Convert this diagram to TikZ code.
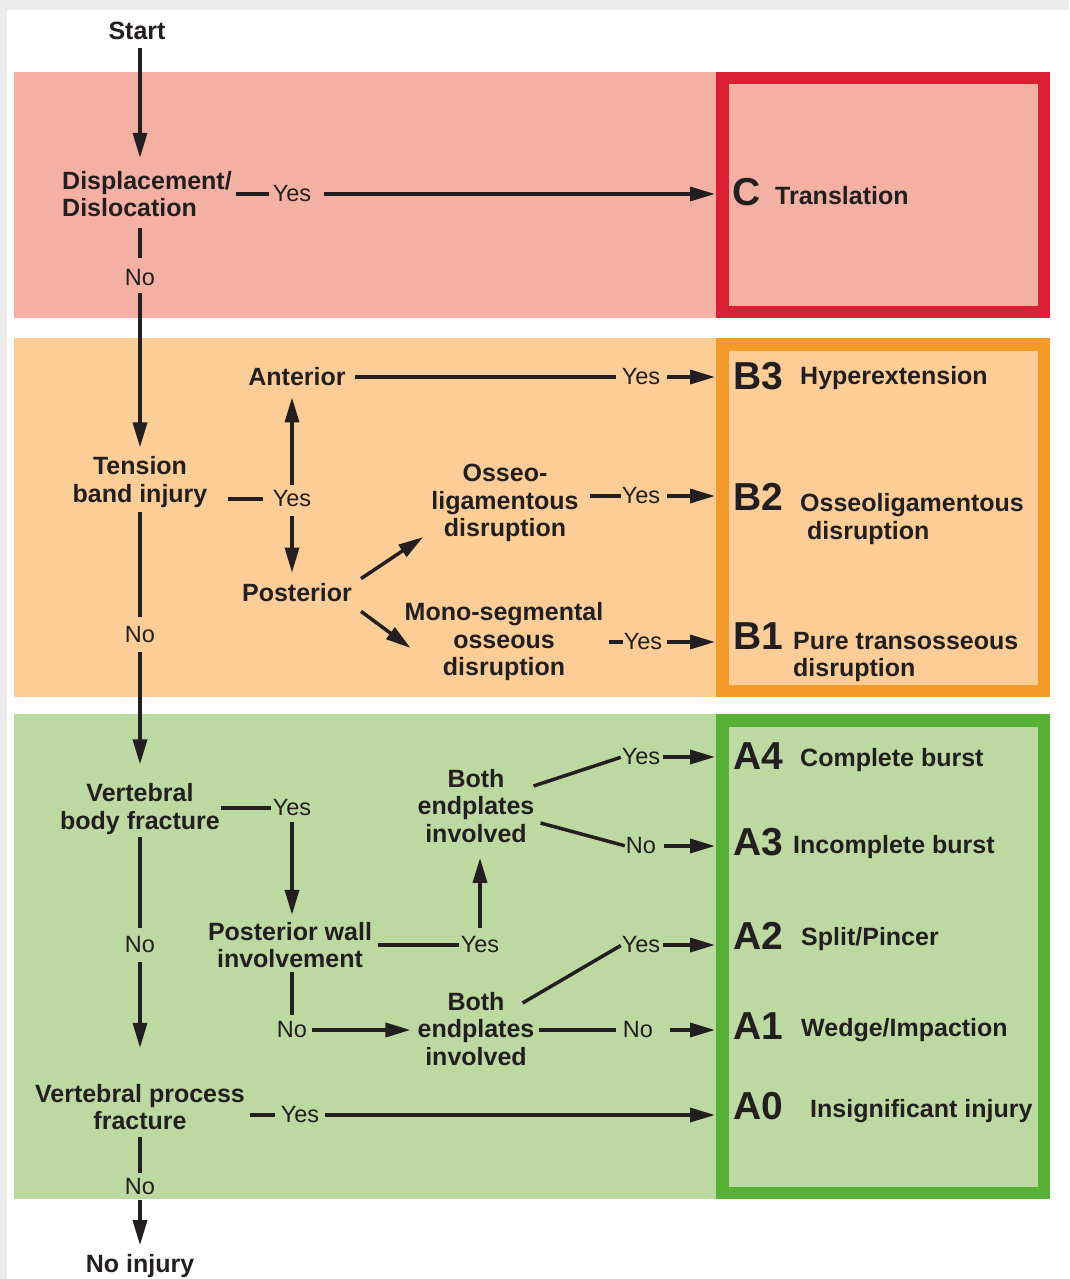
\documentclass[tikz,border=0pt]{standalone}
\usepackage{fontspec}
\setmainfont{Liberation Sans}
\usetikzlibrary{arrows.meta}
\definecolor{redband}{HTML}{F4B0A2}
\definecolor{redframe}{HTML}{DB1F35}
\definecolor{orband}{HTML}{FCCD97}
\definecolor{orframe}{HTML}{F39A29}
\definecolor{grband}{HTML}{BCD9A1}
\definecolor{grframe}{HTML}{55B035}
\definecolor{ink}{HTML}{231F20}
\begin{document}
\begin{tikzpicture}[x=1pt,y=-1pt,
  q/.style={font=\bfseries\fontsize{25}{27.5}\selectfont, align=center, text=ink, inner sep=0pt},
  lbl/.style={font=\fontsize{23.5}{26}\selectfont, text=ink, inner sep=0pt},
  code/.style={font=\bfseries\fontsize{39}{42}\selectfont, text=ink, inner sep=0pt, anchor=west},
  res/.style={font=\bfseries\fontsize{25}{27.5}\selectfont, text=ink, inner sep=0pt, anchor=west, align=left},
  frame/.style={draw=#1, line width=12.5pt, inner sep=0pt, outer sep=6.25pt},
  ln/.style={draw=ink, line width=3.5pt},
  arr/.style={ln, -{Triangle[length=25pt,width=14pt]}},
]
\useasboundingbox (0,0) rectangle (1069,1279);
% screen frame
\fill[black!8] (0,0) rectangle (1069,1279);
\fill[white] (7,10) rectangle (1069,1279);
% bands
\fill[redband] (14,72) rectangle (1050,318);
\fill[orband] (14,338) rectangle (1050,697);
\fill[grband] (14,714) rectangle (1050,1199);
\node[frame=redframe, fill=redband, minimum width=321.5pt, minimum height=233.5pt] (Cbox) at (883,195) {};
\node[frame=orframe, fill=orband, minimum width=321.5pt, minimum height=346.5pt] (Bbox) at (883,517.5) {};
\node[frame=grframe, fill=grband, minimum width=321.5pt, minimum height=472.5pt] (Abox) at (883,956.5) {};

% ---- C band
\node[q] (start) at (137,31) {Start};
\node[q, anchor=west, align=left] (disp) at (62,194) {Displacement/\\Dislocation};
\node[lbl] (y1) at (292,194) {Yes};
\node[lbl] (n1) at (140,278) {No};
\node[code] (C) at (732,192) {C};
\node[res] (Ct) at (775,196) {Translation};

% ---- B band
\node[q] (tens) at (140,482) {Tension\\band injury};
\node[lbl] (y2) at (292,499) {Yes};
\node[q] (ant) at (297,377) {Anterior};
\node[q] (post) at (297,593) {Posterior};
\node[lbl] (y3) at (641,377) {Yes};
\node[code] (B3) at (733,376) {B3};
\node[res] (B3t) at (800,378) {Hyperextension};
\node[q] (osseo) at (505,503) {Osseo-\\ligamentous\\disruption};
\node[lbl] (y4) at (641,496) {Yes};
\node[code] (B2) at (733,497) {B2};
\node[res] (B2t) at (800,519) {Osseoligamentous\\\hspace*{7pt}disruption};
\node[q] (mono) at (504,642) {Mono-segmental\\osseous\\disruption};
\node[lbl] (y5) at (643,642) {Yes};
\node[code] (B1) at (733,636) {B1};
\node[res] (B1t) at (793,657) {Pure transosseous\\disruption};
\node[lbl] (n2) at (140,635) {No};

% ---- A band
\node[q] (vb) at (140,809) {Vertebral\\body fracture};
\node[lbl] (y6) at (292,808) {Yes};
\node[q] (pw) at (290,945) {Posterior wall\\involvement};
\node[lbl] (y7) at (480,945) {Yes};
\node[q] (be1) at (476,806) {Both\\endplates\\involved};
\node[lbl] (y8) at (641,757) {Yes};
\node[lbl] (n3) at (641,846) {No};
\node[code] (A4) at (733,756) {A4};
\node[res] (A4t) at (800,760) {Complete burst};
\node[code] (A3) at (733,842) {A3};
\node[res] (A3t) at (793,847) {Incomplete burst};
\node[lbl] (n4) at (292,1030) {No};
\node[q] (be2) at (476,1029) {Both\\endplates\\involved};
\node[lbl] (y9) at (641,945) {Yes};
\node[lbl] (n5) at (638,1030) {No};
\node[code] (A2) at (733,936) {A2};
\node[res] (A2t) at (801,939) {Split/Pincer};
\node[code] (A1) at (733,1026) {A1};
\node[res] (A1t) at (801,1030) {Wedge/Impaction};
\node[lbl] (n6) at (140,945) {No};
\node[q] (vp) at (140,1107) {Vertebral process\\fracture};
\node[lbl] (y10) at (300,1115) {Yes};
\node[code] (A0) at (733,1106) {A0};
\node[res] (A0t) at (810,1111) {Insignificant injury};
\node[lbl] (n7) at (140,1187) {No};
\node[q] (noinj) at (140,1266) {No injury};

% ---- main column
\draw[arr, shorten <=8pt, shorten >=13pt] (start.south -| n1) -- (n1 |- disp.north);
\draw[ln, shorten <=11pt, shorten >=12pt] (n1 |- disp.south) -- (n1.north);
\draw[arr, shorten <=7pt, shorten >=9pt] (n1.south) -- (tens.north);
\draw[ln, shorten <=4pt, shorten >=10pt] (tens.south) -- (n2.north);
\draw[arr, shorten <=9pt, shorten >=19pt] (n2.south) -- (vb.north);
\draw[ln, shorten <=2pt, shorten >=9pt] (vb.south) -- (n6.north);
\draw[arr, shorten <=9pt, shorten >=36pt] (n6.south) -- (vp.north);
\draw[ln, shorten <=7pt, shorten >=6pt] (vp.south) -- (n7.north);
\draw[arr, shorten <=5pt, shorten >=9pt] (n7.south) -- (noinj.north);

% ---- C connectors
\draw[ln, shorten <=4pt, shorten >=4pt] (disp.east |- y1) -- (y1.west);
\draw[arr, shorten <=13pt, shorten >=1pt] (y1.east) -- (y1.east -| Cbox.west);

% ---- B connectors
\draw[ln, shorten <=20pt, shorten >=10pt] (tens.east |- y2) -- (y2.west);
\draw[arr, shorten <=6pt, shorten >=11pt] (y2.north) -- (y2.north |- ant.south);
\draw[arr, shorten <=9pt, shorten >=11pt] (y2.south) -- (y2.south |- post.north);
\draw[ln, shorten <=9pt, shorten >=6pt] (ant.east) -- (y3.west);
\draw[arr, shorten <=7pt, shorten >=1pt] (y3.east) -- (y3.east -| Bbox.west);
\draw[arr] ([shift={(9,-5)}]post.north east) -- ([shift={(-8,-5)}]osseo.south west);
\draw[arr] ([shift={(9,9)}]post.south east) -- ([shift={(6,6)}]mono.west);
\draw[ln, shorten <=11pt, shorten >=1pt] (osseo.east |- y4) -- (y4.west);
\draw[arr, shorten <=7pt, shorten >=1pt] (y4.east) -- (y4.east -| Bbox.west);
\draw[ln, shorten <=5pt, shorten >=1pt] (mono.east |- y5) -- (y5.west);
\draw[arr, shorten <=5pt, shorten >=1pt] (y5.east) -- (y5.east -| Bbox.west);

% ---- A connectors
\draw[ln, shorten <=1pt, shorten >=2pt] (vb.east |- y6) -- (y6.west);
\draw[arr, shorten <=6pt, shorten >=7pt] (y6.south) -- (y6.south |- pw.north);
\draw[ln, shorten <=6pt, shorten >=2pt] (pw.east |- y7) -- (y7.west);
\draw[arr, shorten <=9pt, shorten >=15pt] (y7.north) -- (y7.north |- be1.south);
\draw[ln, shorten >=1pt] ([shift={(-1,-20)}]be1.east) -- (y8.west);
\draw[ln, shorten >=1pt] ([shift={(6,17)}]be1.east) -- (n3.west);
\draw[arr, shorten <=3pt, shorten >=1pt] (y8.east) -- (y8.east -| Abox.west);
\draw[arr, shorten <=8pt, shorten >=1pt] (n3.east) -- (n3.east -| Abox.west);
\draw[ln, shorten <=4pt, shorten >=7pt] (n4 |- pw.south) -- (n4.north);
\draw[arr, shorten <=5pt, shorten >=7pt] (n4.east) -- (n4.east -| be2.west);
\draw[ln, shorten >=1pt] ([shift={(-12,-26)}]be2.east) -- (y9.west);
\draw[ln, shorten <=4pt, shorten >=7pt] (be2.east |- n5) -- (n5.west);
\draw[arr, shorten <=3pt, shorten >=1pt] (y9.east) -- (y9.east -| Abox.west);
\draw[arr, shorten <=17pt, shorten >=1pt] (n5.east) -- (n5.east -| Abox.west);
\draw[ln, shorten <=5pt, shorten >=6pt] (vp.east |- y10) -- (y10.west);
\draw[arr, shorten <=6pt, shorten >=1pt] (y10.east) -- (y10.east -| Abox.west);
\end{tikzpicture}
\end{document}
